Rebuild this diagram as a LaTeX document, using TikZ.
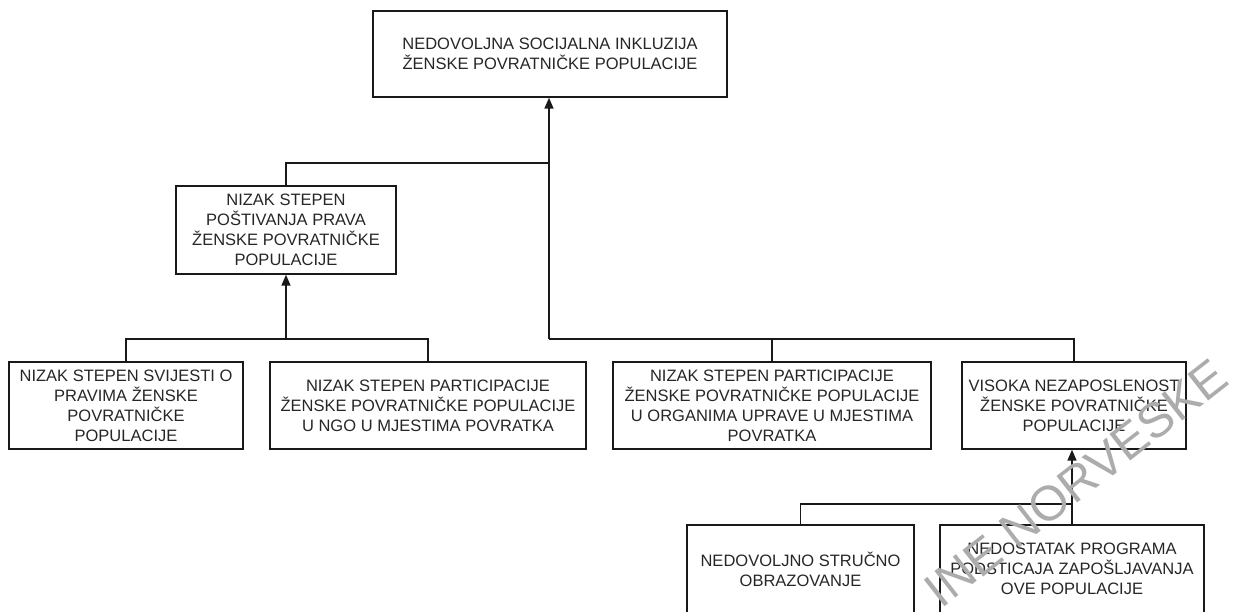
\documentclass[tikz,border=0pt]{standalone}
\usepackage{fontspec}
\setmainfont{Liberation Sans}
\usetikzlibrary{arrows.meta}
\tikzset{
  box/.style={draw=black!90, line width=1.4pt, rectangle, inner sep=0pt, align=center,
    font=\fontsize{16.5}{20}\selectfont, text=black!85},
  conn/.style={draw=black!90, line width=1.6pt},
  arr/.style={conn, -{Triangle[length=11pt,width=9pt]}},
  wmark/.style={text=gray!65, font=\fontsize{49}{49}\selectfont, inner sep=0pt}
}
\begin{document}
\begin{tikzpicture}[x=1pt,y=-1pt]
\useasboundingbox (0,0) rectangle (1245,612);
\clip (0,0) rectangle (1245,612);
% boxes
\node[box, minimum width=354pt, minimum height=86pt] (top) at (550,54) {NEDOVOLJNA SOCIJALNA INKLUZIJA\\ŽENSKE POVRATNIČKE POPULACIJE};
\node[box, minimum width=220pt, minimum height=88pt] (p) at (286,230) {NIZAK STEPEN\\POŠTIVANJA PRAVA\\ŽENSKE POVRATNIČKE\\POPULACIJE};
\node[box, minimum width=234pt, minimum height=87pt] (b1) at (126,405.5) {NIZAK STEPEN SVIJESTI O\\PRAVIMA ŽENSKE\\POVRATNIČKE\\POPULACIJE};
\node[box, minimum width=316pt, minimum height=87pt] (b2) at (428,405.5) {NIZAK STEPEN PARTICIPACIJE\\ŽENSKE POVRATNIČKE POPULACIJE\\U NGO U MJESTIMA POVRATKA};
\node[box, minimum width=318pt, minimum height=87pt] (b3) at (772,405.5) {NIZAK STEPEN PARTICIPACIJE\\ŽENSKE POVRATNIČKE POPULACIJE\\U ORGANIMA UPRAVE U MJESTIMA\\POVRATKA};
\node[box, minimum width=224pt, minimum height=87pt] (b4) at (1074,405.5) {VISOKA NEZAPOSLENOST\\ŽENSKE POVRATNIČKE\\POPULACIJE};
\node[box, minimum width=227pt, minimum height=88pt] (b5) at (800.5,569) {NEDOVOLJNO STRUČNO\\OBRAZOVANJE};
\node[box, minimum width=264pt, minimum height=88pt] (b6) at (1072,569) {NEDOSTATAK PROGRAMA\\PODSTICAJA ZAPOŠLJAVANJA\\OVE POPULACIJE};
% junctions
\coordinate (j1) at (549,163);
\coordinate (j2) at (549,339);
\coordinate (j3) at (286,339);
\coordinate (j4) at (1072,504);
% connectors
\draw[conn] (p.north) |- (j1);
\draw[arr] (j2) -- (j2 |- top.south);
\draw[conn] (j2) -| (b3.north);
\draw[conn] (j2) -| (b4.north);
\draw[arr] (j3) -- (p.south);
\draw[conn] (j3) -| (b1.north);
\draw[conn] (j3) -| (b2.north);
\draw[arr] (j4) -- (j4 |- b4.south);
\draw[conn] (j4) -| (b5.north);
\draw[conn] (j4) -- (b6.north);
% watermark
\node[wmark, rotate=38] (wm) at (1076,483) {INE NORVESKE};
\end{tikzpicture}
\end{document}
